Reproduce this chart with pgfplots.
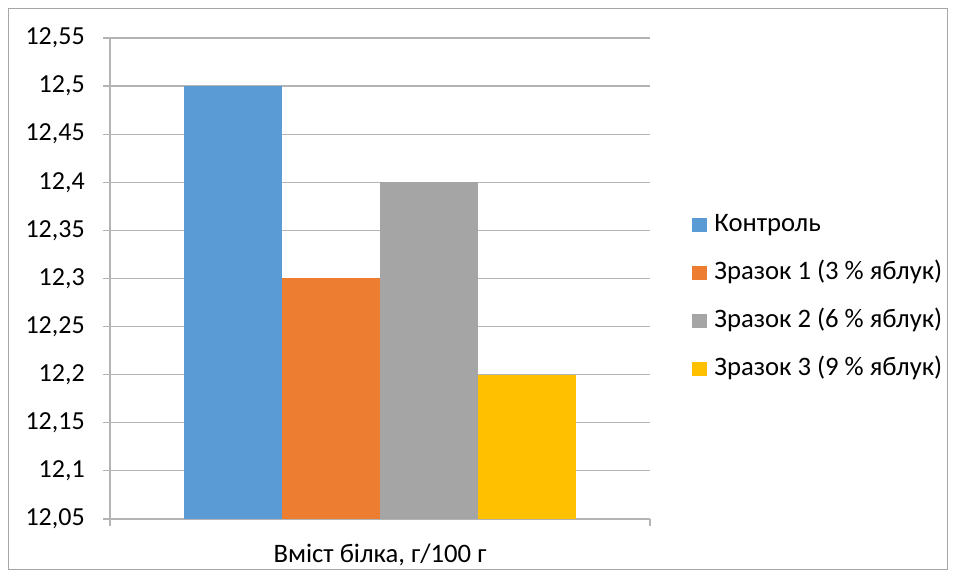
\documentclass[border=0pt]{standalone}
\usepackage{fontspec}
\setmainfont{Carlito}
\usepackage{pgfplots}
\pgfplotsset{compat=1.18}
\definecolor{cA}{HTML}{5B9BD5}
\definecolor{cB}{HTML}{ED7D31}
\definecolor{cC}{HTML}{A5A5A5}
\definecolor{cD}{HTML}{FFC000}
\definecolor{gridc}{HTML}{B4B4B4}
\definecolor{borderc}{HTML}{A6A6A6}
\begin{document}
\begin{tikzpicture}
\useasboundingbox (0,0) rectangle (717pt,433.5pt);
\draw[borderc, line width=0.9pt] (6.4pt,6.4pt) rectangle (710.6pt,427.1pt);
\begin{axis}[
  at={(82.5pt,44.25pt)}, anchor=south west,
  scale only axis, width=405pt, height=360.75pt,
  ybar=0pt, bar width=73.5pt,
  xmin=-0.5, xmax=0.5, ymin=12.05, ymax=12.55,
  ytick={12.05,12.1,...,12.56},
  xtick={0}, xticklabels={Вміст білка{,} г/100 г},
  x tick style={draw=none},
  extra x ticks={-0.5,0.5}, extra x tick labels={},
  extra x tick style={grid=none, x tick style={draw=gridc, line width=0.9pt}},
  axis x line*=bottom, axis y line*=left,
  axis line style={gridc, line width=0.9pt},
  tick align=outside, major tick length=5.25pt,
  y tick style={gridc, line width=0.9pt},
  ymajorgrids, grid style={gridc, line width=0.9pt},
  /pgf/number format/assume math mode=true,
  /pgf/number format/use comma, /pgf/number format/fixed,
  /pgf/number format/precision=2,
  yticklabel style={font=\fontsize{19.5}{23}\selectfont, inner sep=0pt, xshift=-13.5pt},
  xticklabel style={font=\fontsize{20}{23}\selectfont, inner sep=0pt, yshift=-13pt},
  legend style={at={(1.078,0.4615)}, anchor=west, draw=none, fill=none,
    font=\fontsize{20}{23}\selectfont, inner sep=0pt, row sep=18pt,
    nodes={inner sep=0pt, text height=14pt, text depth=4pt}},
  legend cell align=left,
  legend image code/.code={\fill[#1] (0pt,-5.6pt) rectangle (11.25pt,5.6pt);\path (16.5pt,0pt);},
  clip=true,
]
\addplot[fill=cA, draw=none] coordinates {(0,12.5)};
\addplot[fill=cB, draw=none] coordinates {(0,12.3)};
\addplot[fill=cC, draw=none] coordinates {(0,12.4)};
\addplot[fill=cD, draw=none] coordinates {(0,12.2)};
\legend{Контроль, Зразок 1 (3 \% яблук), Зразок 2 (6 \% яблук), Зразок 3 (9 \% яблук)}
\end{axis}
\end{tikzpicture}
\end{document}
